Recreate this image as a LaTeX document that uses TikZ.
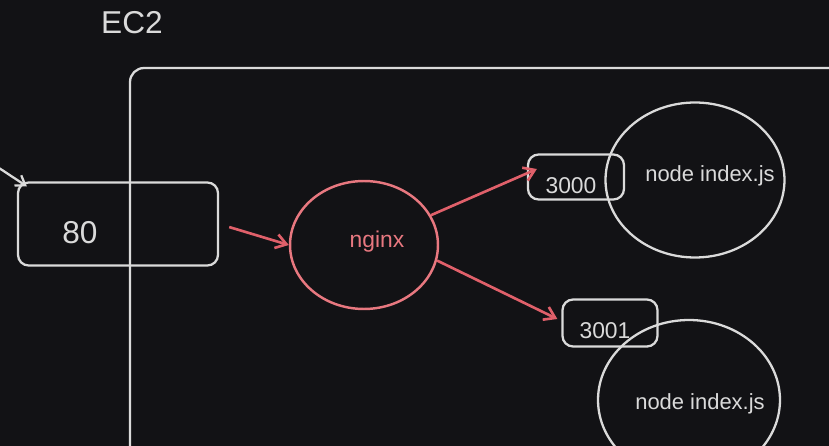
\documentclass[tikz,border=0pt]{standalone}
\usepackage{fontspec}
\setmainfont{Liberation Sans}
\usetikzlibrary{shapes.geometric,arrows.meta}
\definecolor{bgdark}{HTML}{121215}
\definecolor{chalk}{HTML}{DADADA}
\definecolor{rosy}{HTML}{E87880}
\definecolor{rosyarrow}{HTML}{E0606A}
\begin{document}
\begin{tikzpicture}[x=0.02cm,y=-0.02cm,
  box/.style={draw=chalk,line width=1.3pt,rounded corners=6pt,inner sep=0pt},
  blob/.style={draw=chalk,line width=1.3pt,ellipse,inner sep=0pt},
  txt/.style={text=chalk,inner sep=0pt},
  redarrow/.style={draw=rosyarrow,line width=1.5pt,-{Straight Barb[length=6pt,width=8pt]}}]
% 背景
\fill[bgdark] (0,0) rectangle (829,446);
\clip (0,0) rectangle (829,446);
% EC2 外框
\node[txt,font=\fontsize{18}{18}\selectfont] (ec2) at (132,23) {EC2};
\draw[chalk,line width=1.3pt,rounded corners=8pt] (130,470) -- (130,68) -- (860,68);
% 端口 80
\node[box,minimum width=4cm,minimum height=1.66cm] (p80) at (118,224) {};
\node[txt,font=\fontsize{18}{18}\selectfont] (t80) at (80,233) {80};
\coordinate (inlet) at (-4,166);
\draw[chalk,line width=1.3pt,-{Straight Barb[length=5pt,width=7pt]}] (inlet) -- ([shift={(10,5)}]p80.north west);
% nginx
\node[draw=rosy,line width=1.4pt,ellipse,minimum width=2.96cm,minimum height=2.56cm] (nginx) at (364,245) {};
\node[text=rosy,inner sep=0pt,font=\fontsize{13}{13}\selectfont] (tnginx) at (377,242) {nginx};
% 两个 node 进程
\node[box,minimum width=1.92cm,minimum height=0.9cm] (p3000) at (576,177) {};
\node[txt,font=\fontsize{13}{13}\selectfont] (t3000) at (571,186) {3000};
\node[blob,minimum width=3.58cm,minimum height=3.1cm] (app1) at (695,180) {};
\node[txt,font=\fontsize{12.5}{12.5}\selectfont] (tapp1) at (710,176) {node index.js};
\node[box,minimum width=1.9cm,minimum height=0.94cm] (p3001) at (610,323) {};
\node[txt,font=\fontsize{13}{13}\selectfont] (t3001) at (605,331) {3001};
\node[blob,minimum width=3.64cm,minimum height=3.2cm] (app2) at (689,400) {};
\node[txt,font=\fontsize{12.5}{12.5}\selectfont] (tapp2) at (700,404) {node index.js};
% 箭头
\draw[redarrow,shorten <=6pt] (p80.east) -- (nginx.west);
\draw[redarrow] (nginx.24) -- ([shift={(10,-8)}]p3000.west);
\draw[redarrow] (nginx.-12) -- ([shift={(-4,-4)}]p3001.west);
\end{tikzpicture}
\end{document}
